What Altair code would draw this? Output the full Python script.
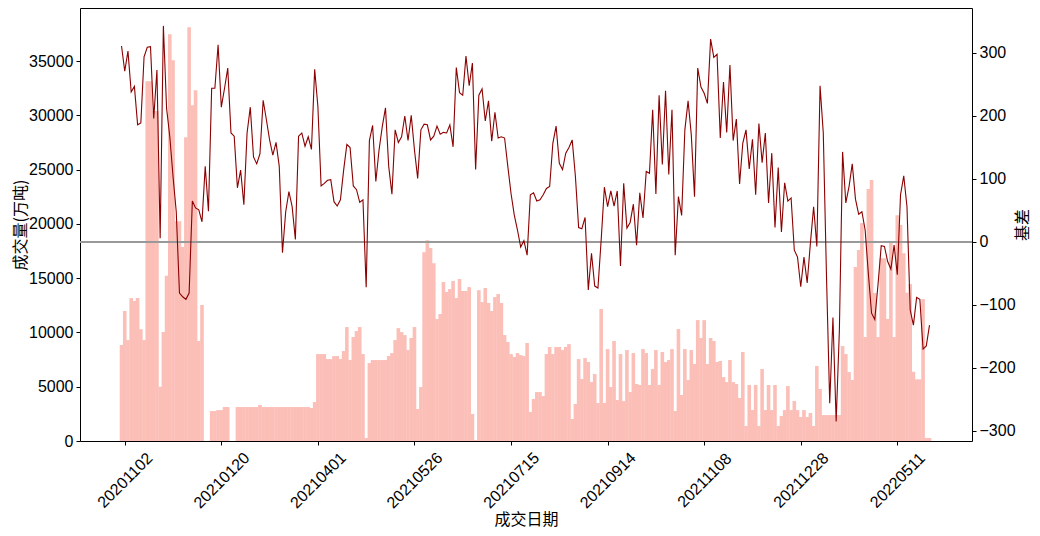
import altair as alt
import pandas as pd

# ---- data ----
tick_pos = [1, 31, 61, 91, 121, 151, 181, 211, 241]
tick_labels = ["20201102", "20210120", "20210401", "20210526", "20210715",
               "20210914", "20211108", "20211228", "20220511"]

volume = [
    8840, 11970, 9300, 13170, 12900, 13170, 10300, 9300, 33150, 33150,
    30400, 30400, 5000, 10040, 15230, 37480, 35090, 20260, 20260, 17870,
    28000, 38130, 30950, 32330, 9210, 12530, 0, 0, 2760, 2760,
    2850, 2850, 3130, 3130, 0, 0, 3130, 3130, 3130, 3130,
    3130, 3130, 3130, 3320, 3130, 3130, 3130, 3130, 3130, 3130,
    3130, 3130, 3130, 3130, 3130, 3130, 3130, 3130, 3130, 3040,
    3590, 8010, 8010, 8010, 7550, 7550, 7830, 7830, 7550, 8290,
    10500, 7460, 9580, 10130, 10500, 8010, 280, 7180, 7460, 7460,
    7460, 7460, 7460, 7830, 8100, 9300, 10400, 10040, 9760, 8380,
    9490, 10500, 2950, 4970, 17400, 18510, 17780, 16390, 11240, 11700,
    14640, 13720, 14000, 14740, 13170, 14920, 13820, 13820, 14180, 2490,
    90, 13900, 12800, 14090, 12710, 11970, 13260, 13540, 12710, 9760,
    9120, 8010, 7740, 8100, 7920, 7830, 9030, 2670, 3870, 4510,
    4510, 4140, 8010, 8660, 8010, 8660, 8660, 8380, 8660, 8930,
    2030, 3410, 7550, 5710, 7640, 7280, 5430, 6170, 3500, 12160,
    3500, 8470, 4970, 9210, 3780, 8010, 3680, 8380, 4510, 8100,
    5250, 5160, 8470, 8100, 5160, 6630, 8380, 5160, 8200, 7280,
    7460, 8470, 2760, 10310, 4240, 8470, 5620, 8380, 7090, 11140,
    9490, 11140, 7090, 9490, 9210, 7280, 7370, 5890, 5430, 7460,
    5430, 5250, 3960, 8200, 1380, 5160, 2850, 5160, 1380, 6630,
    2850, 5160, 2850, 5160, 1380, 2300, 2850, 5060, 2850, 3680,
    2850, 2210, 2850, 2210, 2580, 1380, 6910, 4790, 2390, 2390,
    2390, 2390, 2390, 2390, 8750, 8010, 6350, 5620, 16030, 17590,
    20080, 9580, 23210, 24040, 13630, 9580, 16850, 16850, 11240, 18420,
    9580, 20810, 19900, 17300, 13660, 14460, 6380, 5680, 5680, 13080,
    280, 280,
]

basis = [
    311, 271, 303, 238, 247, 186, 189, 294, 309, 310,
    196, 273, 6, 343, 212, 167, 104, 48, -81, -87,
    -91, -81, 65, 54, 51, 32, 120, 49, 244, 244,
    313, 214, 244, 276, 173, 168, 86, 114, 59, 173,
    214, 135, 124, 140, 225, 194, 162, 138, 158, 120,
    -17, 48, 80, 56, 4, 168, 173, 152, 167, 147,
    274, 215, 89, 93, 98, 99, 64, 57, 67, 114,
    155, 150, 89, 83, 63, 67, -72, 161, 185, 96,
    146, 183, 213, 120, 76, 178, 158, 167, 200, 161,
    201, 146, 101, 178, 187, 186, 162, 168, 184, 171,
    174, 173, 186, 151, 277, 237, 233, 295, 248, 284,
    115, 233, 243, 192, 224, 160, 206, 165, 167, 165,
    120, 77, 43, 19, -8, 2, -21, 75, 78, 65,
    67, 75, 85, 88, 157, 184, 125, 115, 141, 150,
    162, 104, 23, 21, 39, -76, -18, -70, -73, 3,
    87, 56, 81, 57, 81, -38, 93, 22, 31, 60,
    -5, 78, 38, 112, 109, 210, 76, 233, 123, 240,
    107, 210, -21, 72, 42, 178, 224, 170, 72, 276,
    246, 236, 220, 322, 293, 298, 165, 254, 174, 281,
    161, 195, 92, 157, 178, 116, 163, 75, 188, 126,
    173, 62, 141, 23, 118, 16, 94, 65, 70, -13,
    -24, -71, -24, -65, -2, 56, -7, 248, 173, -55,
    -256, -120, -285, -140, 143, 62, 88, 124, 68, 44,
    48, 19, -50, -113, -123, -68, -6, -7, -31, -43,
    -5, -52, 75, 105, 56, -108, -132, -88, -91, -170,
    -165, -132,
]

n = len(volume)
df = pd.DataFrame({"i": list(range(n)), "vol": volume, "basis": basis[:n]})
zero_df = pd.DataFrame({"zero": [0]})

LABEL_FONT = "Liberation Sans"
CJK_FONT = "Noto Sans CJK SC"

label_expr = ("[" + ",".join("'%s'" % s for s in tick_labels) + "][indexof(["
              + ",".join(str(p) for p in tick_pos) + "], datum.value)]")

x_scale = alt.Scale(domain=[-12.9, 264.2], nice=False, zero=False)
x_axis = alt.Axis(
    values=tick_pos, labelExpr=label_expr, title="成交日期",
    labelAngle=-45, labelAlign="center", labelBaseline="middle",
    labelPadding=35, labelFont=LABEL_FONT, labelFontSize=16, labelColor="black",
    labelOverlap=False, labelFlush=False, labelBound=False,
    tickSize=4, tickColor="black", domain=False, grid=False,
    titleFont=CJK_FONT, titleFontSize=16, titleFontWeight="normal",
    titleColor="black", titleY=78, titleBaseline="middle",
)

left_axis = alt.Axis(
    values=[0, 5000, 10000, 15000, 20000, 25000, 30000, 35000], format="d",
    title="成交量(万吨)", labelFont=LABEL_FONT, labelFontSize=16,
    labelColor="black", labelPadding=3, tickSize=4, tickColor="black",
    domain=False, grid=False, titleFont=CJK_FONT, titleFontSize=16,
    titleFontWeight="normal", titleColor="black", titleX=-60,
    titleBaseline="middle", titleAngle=270,
)

right_axis = alt.Axis(
    orient="right", values=[-300, -200, -100, 0, 100, 200, 300], format="d",
    title="基差", labelFont=LABEL_FONT, labelFontSize=16, labelColor="black",
    labelPadding=3, tickSize=4, tickColor="black", domain=False, grid=False,
    titleFont=CJK_FONT, titleFontSize=16, titleFontWeight="normal",
    titleColor="black", titleX=50, titleBaseline="middle", titleAngle=270,
)

right_scale = alt.Scale(domain=[-315.9, 371.4], nice=False, zero=False)

bars = alt.Chart(df).transform_filter("datum.vol > 0").transform_calculate(
    x0="datum.i - 0.56", x1="datum.i + 0.56"
).mark_bar(color="#FBBFB8").encode(
    x=alt.X("x0:Q", scale=x_scale, axis=x_axis),
    x2="x1:Q",
    y=alt.Y("vol:Q", scale=alt.Scale(domain=[0, 39900], nice=False), axis=left_axis),
    y2=alt.datum(0),
)

rule = alt.Chart(zero_df).mark_rule(color="#999999", strokeWidth=1.8).encode(
    y=alt.Y("zero:Q", scale=right_scale, axis=right_axis),
)

line = alt.Chart(df).mark_line(color="#8B0000", strokeWidth=1.1).encode(
    x=alt.X("i:Q", scale=x_scale, axis=x_axis),
    y=alt.Y("basis:Q", scale=right_scale, axis=right_axis),
)

chart = alt.layer(bars, alt.layer(rule, line)).resolve_scale(
    y="independent"
).properties(
    width=892, height=433,
    autosize=alt.AutoSizeParams(type="none"),
    padding={"left": 72, "top": 0, "right": 60, "bottom": 87},
).configure(background="white").configure_view(stroke="black", strokeWidth=1)

chart.save("out.html", embed_options={"renderer": "svg", "actions": False})
